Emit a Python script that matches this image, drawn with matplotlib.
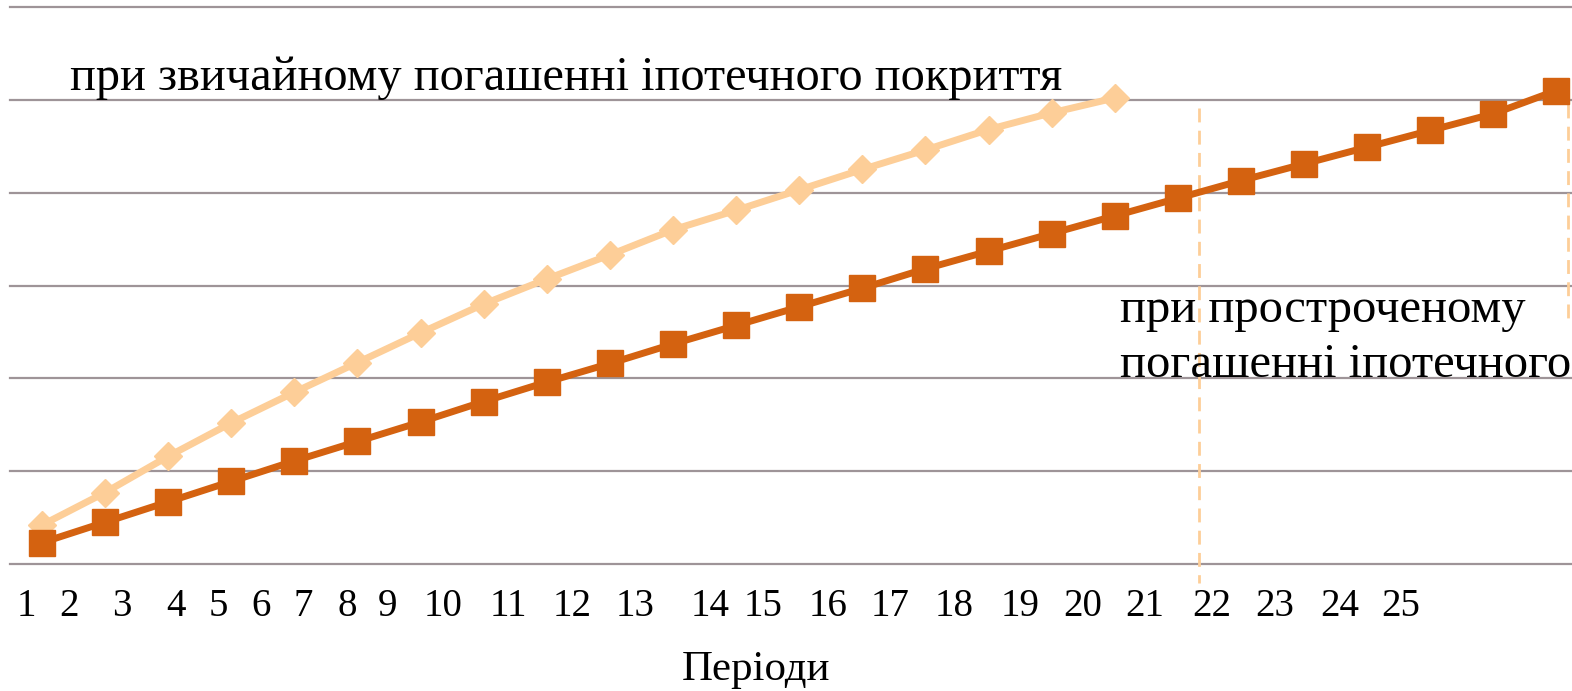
#! python3
# Ipoteka: normal vs delayed repayment of mortgage coverage

import matplotlib
matplotlib.use('Agg')
import matplotlib.pyplot as plt

plt.rcParams['font.family'] = ['Liberation Serif', 'DejaVu Serif']

# data (one grid step = 1 unit, no y labels on the original)
periods_late = list(range(1, 26))
values_late = [0.23, 0.45, 0.67, 0.89, 1.11, 1.32, 1.53, 1.75, 1.96, 2.16,
               2.37, 2.57, 2.77, 2.97, 3.18, 3.37, 3.56, 3.75, 3.94, 4.13,
               4.31, 4.49, 4.67, 4.85, 5.10]
periods_normal = list(range(1, 19))
values_normal = [0.42, 0.77, 1.16, 1.52, 1.85, 2.17, 2.49, 2.80, 3.07, 3.33,
                 3.60, 3.81, 4.03, 4.25, 4.46, 4.68, 4.86, 5.02]
tick_labels = [str(i) for i in range(1, 26)]

# tick labels sit at uneven places in the original
tick_pos = [0.76, 1.43, 2.27, 3.12, 3.79, 4.47, 5.14, 5.83, 6.48, 7.36,
            8.39, 9.40, 10.40, 11.59, 12.43, 13.46, 14.44, 15.45, 16.50, 17.50,
            18.48, 19.53, 20.53, 21.56, 22.54]

DARK = '#D46210'
LIGHT = '#FDCE98'
GRID = '#9E9498'

fig = plt.figure(figsize=(15.72, 6.91), dpi=100)
ax = fig.add_axes([10/1572, 1-564/691, 1-10/1572, (564-7)/691])

for y in range(0, 7):
    ax.axhline(y, color=GRID, lw=1.6, zorder=0, clip_on=False)

ax.plot(periods_normal, values_normal, color=LIGHT, lw=5, marker='D',
        ms=14.5, zorder=2, clip_on=False)
ax.plot(periods_late, values_late, color=DARK, lw=5, marker='s',
        ms=18.5, zorder=3, clip_on=False)

# dashed guide lines
ax.plot([19.34, 19.34], [4.91, -0.20], color=LIGHT, lw=2, ls=(0, (5, 3)),
        zorder=1, clip_on=False)
ax.plot([25.18, 25.18], [4.95, 2.58], color=LIGHT, lw=2, ls=(0, (5, 3)),
        zorder=1, clip_on=False)

ax.set_xlim(0.493, 25.247)
ax.set_ylim(0, 6)
ax.set_yticks([])
ax.set_xticks(tick_pos, tick_labels, fontsize=28)
ax.tick_params(axis='x', length=0, pad=17)
for s in ax.spines.values():
    s.set_visible(False)

fig.text(70/1572, 1-90/691, 'при звичайному погашенні іпотечного покриття',
         fontsize=34.8, va='baseline', ha='left')
fig.text(1120/1572, 1-322/691, 'при простроченому', fontsize=35,
         va='baseline', ha='left')
fig.text(1120/1572, 1-377/691, 'погашенні іпотечного', fontsize=35,
         va='baseline', ha='left')
fig.text(756/1572, 1-680/691, 'Періоди', fontsize=31, va='baseline', ha='center')

plt.savefig('out.png', dpi=100)
